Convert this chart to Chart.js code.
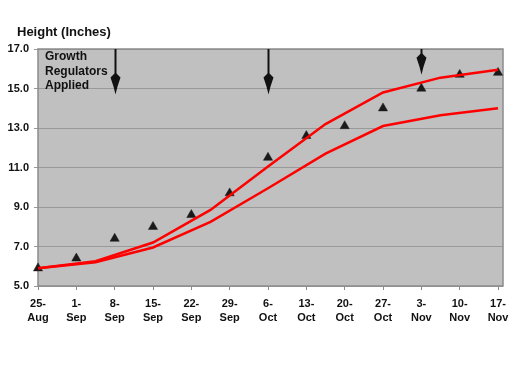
<!DOCTYPE html>
<html>
<head>
<meta charset="utf-8">
<script src="https://cdn.jsdelivr.net/npm/chart.js@4/dist/chart.umd.min.js"></script>
<style>
  body { margin: 0; background: #fff; }
  canvas { display: block; }
</style>
</head>
<body>
<canvas id="heightChart" width="525" height="365"></canvas>
<script>
// Week labels along the bottom
const dates = ['25-Aug', '1-Sep', '8-Sep', '15-Sep', '22-Sep', '29-Sep', '6-Oct',
               '13-Oct', '20-Oct', '27-Oct', '3-Nov', '10-Nov', '17-Nov'];
// Measured plant height (triangles), one per week
const measured = [5.9, 6.4, 7.4, 8.0, 8.6, 9.7, 11.5, 12.6, 13.1, 14.0, 15.0, 15.7, 15.8];
// Target curves, sampled every 1.5 weeks
const curveWeeks = [0, 1.5, 3, 4.5, 6, 7.5, 9, 10.5, 12];
const upperCurve = [5.9, 6.25, 7.2, 8.85, 11.05, 13.2, 14.8, 15.55, 15.95];
const lowerCurve = [5.9, 6.2, 6.95, 8.25, 9.95, 11.7, 13.1, 13.65, 14.0];
// Growth regulator applications (week index, arrow tip height)
const arrowWeeks = [2, 6, 10];
const arrowTips = [14.7, 14.7, 15.7];
const yTicks = [5, 7, 9, 11, 13, 15, 17];

const FONT = "'Liberation Sans', Arial, sans-serif";
const TEXT = '#111111';

document.addEventListener('DOMContentLoaded', function() {
    const ctx = document.getElementById('heightChart').getContext('2d');

    // Gray plot background, frame, title, arrows and note
    const decorations = {
        id: 'decorations',
        beforeDraw(chart) {
            const a = chart.chartArea;
            const c = chart.ctx;
            c.save();
            c.fillStyle = '#c0c0c0';
            c.fillRect(a.left, a.top, a.right - a.left, a.bottom - a.top);
            c.restore();
        },
        beforeDatasetsDraw(chart) {
            const a = chart.chartArea;
            const c = chart.ctx;
            c.save();
            c.strokeStyle = '#8c8c8c';
            c.lineWidth = 1.5;
            c.strokeRect(a.left, a.top, a.right - a.left, a.bottom - a.top);
            c.restore();
        },
        afterDatasetsDraw(chart) {
            const a = chart.chartArea;
            const c = chart.ctx;
            const xs = chart.scales.x;
            const ys = chart.scales.y;
            c.save();

            // title
            c.fillStyle = TEXT;
            c.font = 'bold 13px ' + FONT;
            c.textBaseline = 'middle';
            c.textAlign = 'left';
            c.fillText('Height (Inches)', 17, 32);

            // note in the top left corner
            c.font = 'bold 12px ' + FONT;
            ['Growth', 'Regulators', 'Applied'].forEach((t, i) => {
                c.fillText(t, a.left + 7, a.top + 8 + i * 14.5);
            });

            // arrows
            c.fillStyle = '#111111';
            c.strokeStyle = '#111111';
            arrowWeeks.forEach((w, i) => {
                const x = Math.round(xs.getPixelForValue(w)) + 0.5;
                const tip = ys.getPixelForValue(arrowTips[i]);
                c.lineWidth = 2;
                c.beginPath();
                c.moveTo(x, a.top);
                c.lineTo(x, tip - 10);
                c.stroke();
                c.beginPath();
                c.moveTo(x - 1, tip - 21);
                c.lineTo(x - 5, tip - 17);
                c.lineTo(x - 2, tip - 8);
                c.lineTo(x, tip);
                c.lineTo(x + 2, tip - 8);
                c.lineTo(x + 5, tip - 17);
                c.lineTo(x + 1, tip - 21);
                c.closePath();
                c.fill();
            });
            c.restore();
        }
    };

    const config = {
        type: 'scatter',
        data: {
            datasets: [{
                label: 'Upper',
                data: curveWeeks.map((w, i) => ({ x: w, y: upperCurve[i] })),
                showLine: true,
                borderColor: '#ff0000',
                borderWidth: 2.5,
                pointRadius: 0,
                tension: 0,
                clip: false
            }, {
                label: 'Lower',
                data: curveWeeks.map((w, i) => ({ x: w, y: lowerCurve[i] })),
                showLine: true,
                borderColor: '#ff0000',
                borderWidth: 2.5,
                pointRadius: 0,
                tension: 0,
                clip: false
            }, {
                label: 'Measured',
                data: measured.map((v, i) => ({ x: i, y: v })),
                showLine: false,
                pointStyle: 'triangle',
                pointRadius: 5.3,
                pointBackgroundColor: '#1a1a1a',
                pointBorderColor: '#1a1a1a',
                pointBorderWidth: 0.5,
                clip: false
            }]
        },
        options: {
            responsive: false,
            animation: false,
            layout: {
                padding: { top: 49, right: 22, bottom: 0, left: 0 }
            },
            plugins: {
                legend: { display: false },
                tooltip: { enabled: false }
            },
            scales: {
                x: {
                    type: 'linear',
                    min: 0,
                    max: 12.13,
                    afterBuildTicks: function(scale) {
                        scale.ticks = dates.map((d, i) => ({ value: i }));
                    },
                    afterFit: function(scale) {
                        scale.height = 79;
                    },
                    grid: {
                        drawOnChartArea: false,
                        drawTicks: true,
                        tickLength: 4,
                        color: '#8c8c8c'
                    },
                    border: { display: false },
                    ticks: {
                        autoSkip: false,
                        maxRotation: 0,
                        padding: 6,
                        color: TEXT,
                        font: { family: FONT, size: 11, weight: 'bold', lineHeight: 1.36 },
                        callback: function(value) {
                            const label = dates[value];
                            if (!label) return '';
                            const parts = label.split('-');
                            return [parts[0] + '-', parts[1]];
                        }
                    }
                },
                y: {
                    min: 5,
                    max: 17,
                    afterBuildTicks: function(scale) {
                        scale.ticks = yTicks.map(v => ({ value: v }));
                    },
                    afterFit: function(scale) {
                        scale.width = 38;
                    },
                    grid: {
                        color: '#999999',
                        lineWidth: 1,
                        tickLength: 4
                    },
                    border: { display: false },
                    ticks: {
                        padding: 5,
                        color: TEXT,
                        font: { family: FONT, size: 11, weight: 'bold' },
                        callback: function(value) {
                            return value.toFixed(1);
                        }
                    }
                }
            }
        },
        plugins: [decorations]
    };

    new Chart(ctx, config);
});
</script>
</body>
</html>
